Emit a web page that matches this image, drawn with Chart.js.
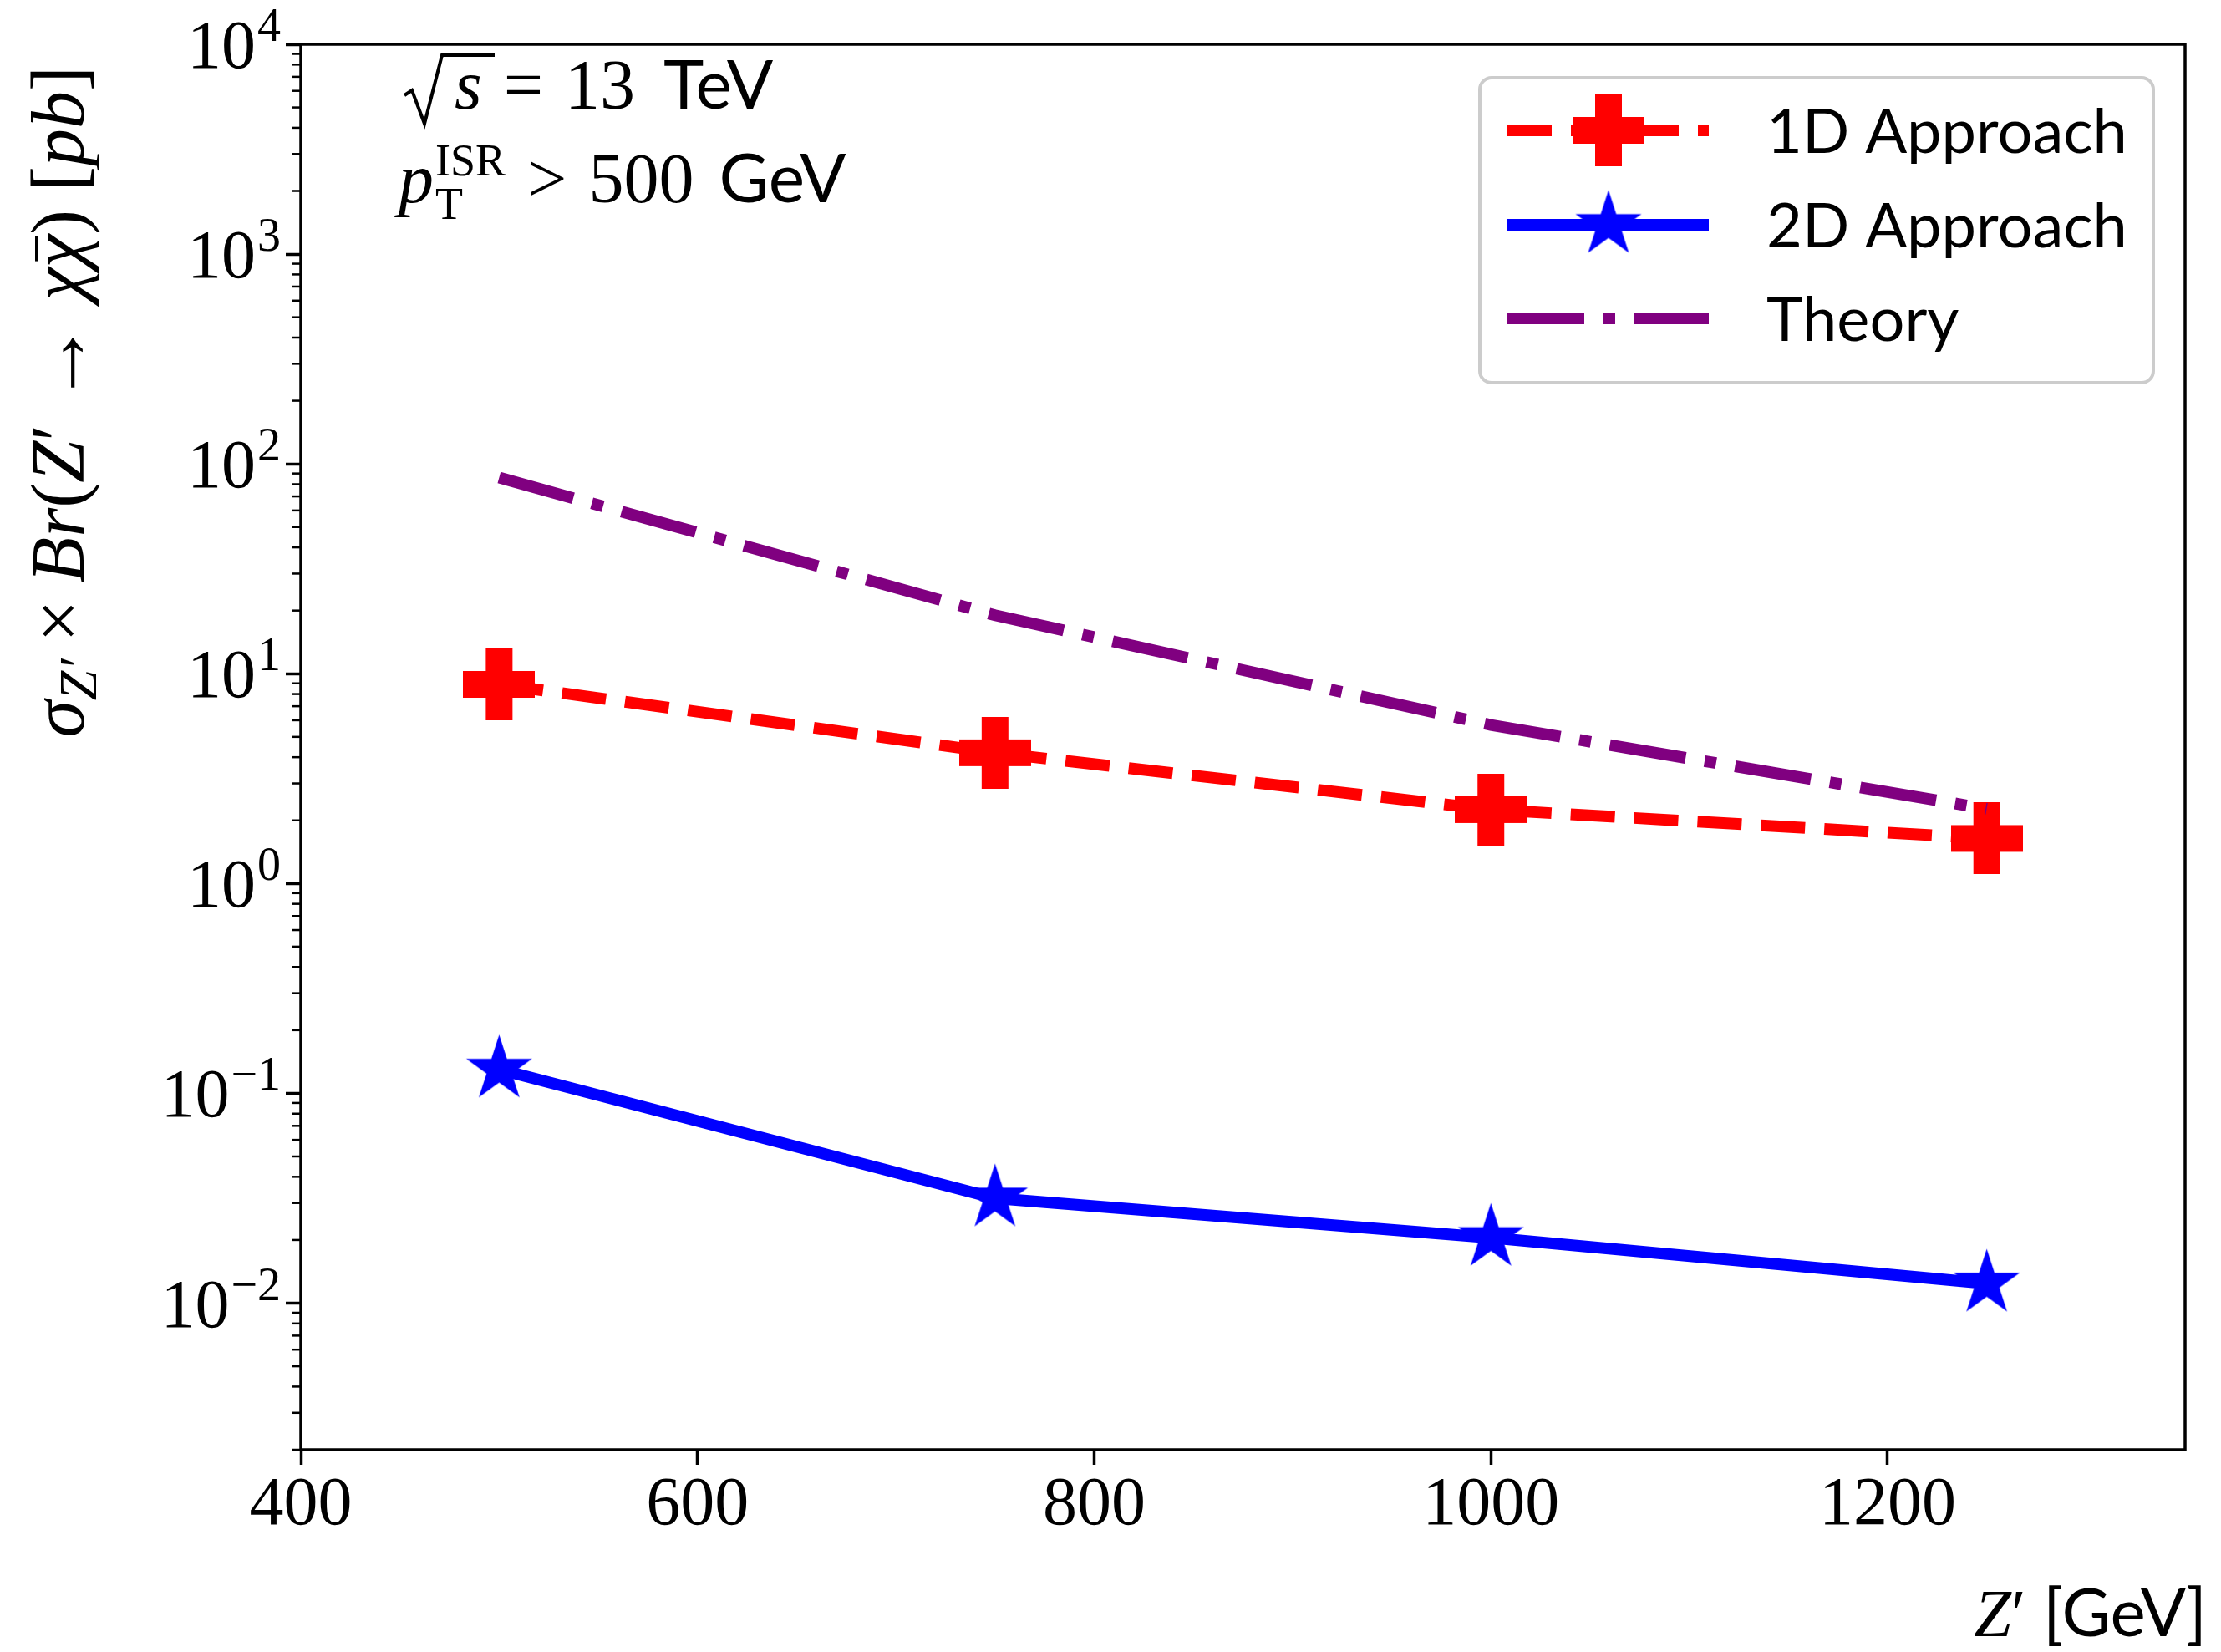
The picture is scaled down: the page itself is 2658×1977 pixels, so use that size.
<!DOCTYPE html>
<html>
<head>
<meta charset="utf-8">
<script src="https://cdn.jsdelivr.net/npm/chart.js@4.4.1/dist/chart.umd.min.js"></script>
<style>
  html, body { margin: 0; padding: 0; background: #fff; }
  #wrap { width: 2658px; height: 1977px; }
</style>
</head>
<body>
<div id="wrap"><canvas id="limitChart" width="2658" height="1977"></canvas></div>
<script>
// ---------------------------
// data
// ---------------------------
const masses = [500, 750, 1000, 1250];          // Z' mass [GeV]
const limit1D = [8.9, 4.2, 2.25, 1.64];         // pb
const limit2D = [0.130, 0.0316, 0.0205, 0.0124];
const theory = [86, 19, 5.7, 2.27];
const xTickValues = [400, 600, 800, 1000, 1200];
const yDecades = [-2, -1, 0, 1, 2, 3, 4];

const SERIF = '"Liberation Serif", "DejaVu Serif", serif';
const SANS = 'Lato, "DejaVu Sans", sans-serif';

// ---------------------------
// marker images (filled plus, filled star)
// ---------------------------
function makePlus(color, size, arm) {
    const c = document.createElement('canvas');
    c.width = size; c.height = size;
    const g = c.getContext('2d');
    g.fillStyle = color;
    const a = (size - arm) / 2;
    g.fillRect(a, 0, arm, size);
    g.fillRect(0, a, size, arm);
    return c;
}

function makeStar(color, R) {
    const s = Math.ceil(2 * R + 4);
    const c = document.createElement('canvas');
    c.width = s; c.height = s;
    const g = c.getContext('2d');
    const r = R * 0.381966;
    g.beginPath();
    for (let i = 0; i < 10; i++) {
        const rad = i % 2 === 0 ? R : r;
        const ang = -Math.PI / 2 + i * Math.PI / 5;
        const px = s / 2 + rad * Math.cos(ang), py = s / 2 + rad * Math.sin(ang);
        if (i === 0) g.moveTo(px, py); else g.lineTo(px, py);
    }
    g.closePath();
    g.fillStyle = color;
    g.fill();
    return c;
}

const plusMarker = makePlus('#ff0000', 86, 32);
const starMarker = makeStar('#0000ff', 41.5);

const toPoints = arr => masses.map((m, i) => ({ x: m, y: arr[i] }));
const isDecade = v => Math.abs(Math.log10(v) - Math.round(Math.log10(v))) < 1e-9;

// ---------------------------
// text helper: draws a row of differently styled pieces
// ---------------------------
function drawRuns(ctx, x, y, runs) {
    runs.forEach(r => {
        ctx.font = r.font;
        x += r.pre || 0;
        const w = ctx.measureText(r.t).width;
        ctx.fillText(r.t, x, y + (r.dy || 0));
        if (r.bar) ctx.fillRect(x + w * 0.2, y - r.bar, w * 0.75, 4);
        x += w + (r.sp || 0);
    });
    return x;
}

function runsWidth(ctx, runs) {
    let w = 0;
    runs.forEach(r => { ctx.font = r.font; w += ctx.measureText(r.t).width + (r.sp || 0) + (r.pre || 0); });
    return w;
}

// ---------------------------
// plugin: frame, minor ticks, y labels, legend, annotations
// ---------------------------
const decorations = {
    id: 'decorations',
    beforeDraw(chart) {
        const ctx = chart.ctx;
        ctx.save();
        ctx.fillStyle = '#ffffff';
        ctx.fillRect(0, 0, chart.width, chart.height);
        ctx.restore();
    },
    afterDatasetsDraw(chart) {
        const ctx = chart.ctx;
        const area = chart.chartArea;
        const ys = chart.scales.y;
        ctx.save();
        ctx.fillStyle = '#000';
        ctx.strokeStyle = '#000';

        // axes frame
        ctx.lineWidth = 3.5;
        ctx.strokeRect(area.left, area.top, area.right - area.left, area.bottom - area.top);

        // minor y ticks
        ctx.lineWidth = 2.5;
        ys.ticks.forEach(t => {
            if (isDecade(t.value)) return;
            const py = ys.getPixelForValue(t.value);
            ctx.beginPath();
            ctx.moveTo(area.left - 10, py);
            ctx.lineTo(area.left, py);
            ctx.stroke();
        });

        // y tick labels 10^k
        ctx.textBaseline = 'alphabetic';
        yDecades.forEach(k => {
            const py = ys.getPixelForValue(Math.pow(10, k));
            const sup = k < 0 ? '\u2212' + (-k) : String(k);
            ctx.font = '56px ' + SERIF;
            const wSup = ctx.measureText(sup).width;
            ctx.font = '82px ' + SERIF;
            const wBase = ctx.measureText('10').width;
            const xEnd = 336;
            ctx.fillText('10', xEnd - wSup - wBase - 2, py + 28);
            ctx.font = '56px ' + SERIF;
            ctx.fillText(sup, xEnd - wSup, py - 4);
        });

        // y axis label (rotated)
        const F = 90;
        const yRuns = [
            { t: '\u03c3', font: 'italic ' + F + 'px ' + SERIF },
            { t: 'Z\u2032', font: 'italic 64px ' + SERIF, dy: 15 },
            { t: '\u00d7', font: F + 'px ' + SERIF, pre: 20, sp: 20 },
            { t: 'Br', font: 'italic ' + F + 'px ' + SERIF },
            { t: '(', font: F + 'px ' + SERIF },
            { t: 'Z', font: 'italic ' + F + 'px ' + SERIF },
            { t: '\u2032', font: F + 'px ' + SERIF },
            { t: '\u2192', font: (F + 10) + 'px ' + SERIF, pre: 24, sp: 24, dy: 4 },
            { t: '\u03c7', font: 'italic ' + F + 'px ' + SERIF },
            { t: '\u03c7', font: 'italic ' + F + 'px ' + SERIF, bar: 58 },
            { t: ')', font: F + 'px ' + SERIF, sp: 22 },
            { t: '[', font: F + 'px ' + SERIF },
            { t: 'pb', font: 'italic ' + F + 'px ' + SERIF },
            { t: ']', font: F + 'px ' + SERIF }
        ];
        const yLen = runsWidth(ctx, yRuns);
        ctx.save();
        ctx.translate(100, 79 + yLen);
        ctx.rotate(-Math.PI / 2);
        drawRuns(ctx, 0, 0, yRuns);
        ctx.restore();

        // x axis label, right aligned
        const xRuns = [
            { t: 'Z', font: 'italic 80px ' + SERIF },
            { t: '\u2032', font: '80px ' + SERIF },
            { t: ' [GeV]', font: '80px ' + SANS }
        ];
        drawRuns(ctx, 2641 - runsWidth(ctx, xRuns), 1958, xRuns);

        // annotations top-left
        ctx.lineWidth = 4;
        ctx.lineJoin = 'miter';
        ctx.beginPath();
        ctx.moveTo(484, 114);
        ctx.lineTo(493, 108);
        ctx.lineTo(508, 148);
        ctx.lineTo(529, 66);
        ctx.lineTo(592, 66);
        ctx.stroke();
        drawRuns(ctx, 544, 130, [
            { t: 's', font: 'italic 84px ' + SERIF },
            { t: '=', font: '84px ' + SERIF, pre: 26, sp: 26 },
            { t: '13', font: '84px ' + SERIF },
            { t: 'TeV', font: '82px ' + SANS, pre: 34 }
        ]);
        ctx.font = 'italic 84px ' + SERIF;
        ctx.fillText('p', 477, 242);
        const pw = ctx.measureText('p').width;
        ctx.font = '54px ' + SERIF;
        ctx.fillText('T', 477 + pw + 2, 262);
        ctx.fillText('ISR', 477 + pw + 2, 210);
        const isrW = ctx.measureText('ISR').width;
        drawRuns(ctx, 477 + pw + 2 + isrW, 242, [
            { t: '>', font: '84px ' + SERIF, pre: 26, sp: 26 },
            { t: '500', font: '84px ' + SERIF },
            { t: 'GeV', font: '82px ' + SANS, pre: 30 }
        ]);

        // legend
        const lx = 1771, ly = 93, lw = 806, lh = 365;
        ctx.beginPath();
        ctx.roundRect(lx, ly, lw, lh, 14);
        ctx.fillStyle = 'rgba(255,255,255,0.85)';
        ctx.fill();
        ctx.lineWidth = 4;
        ctx.strokeStyle = '#cccccc';
        ctx.stroke();

        const rowY = [156, 269, 381];
        chart.data.datasets.forEach((ds, i) => {
            const y = rowY[i];
            ctx.save();
            ctx.strokeStyle = ds.borderColor;
            ctx.lineWidth = ds.borderWidth;
            ctx.lineCap = 'butt';
            ctx.setLineDash(ds.borderDash || []);
            ctx.beginPath();
            ctx.moveTo(1804, y);
            ctx.lineTo(2045, y);
            ctx.stroke();
            ctx.restore();
            const m = ds.pointRadius > 0 ? ds.pointStyle : null;
            if (m && typeof m === 'object') {
                ctx.drawImage(m, 1925 - m.width / 2, y - m.height / 2);
            }
            ctx.fillStyle = '#000';
            ctx.font = '74px ' + SANS;
            ctx.fillText(ds.label, 2114, y + 27);
        });

        ctx.restore();
    }
};

// ---------------------------
// chart
// ---------------------------
const ctx = document.getElementById('limitChart').getContext('2d');

const limitChart = new Chart(ctx, {
    type: 'line',
    data: {
        datasets: [
            {
                label: '1D Approach',
                data: toPoints(limit1D),
                borderColor: '#ff0000',
                backgroundColor: '#ff0000',
                borderWidth: 14,
                borderDash: [53, 23],
                borderCapStyle: 'butt',
                borderJoinStyle: 'round',
                pointStyle: plusMarker,
                pointRadius: 5,
                tension: 0,
                fill: false,
                order: 2
            },
            {
                label: '2D Approach',
                data: toPoints(limit2D),
                borderColor: '#0000ff',
                backgroundColor: '#0000ff',
                borderWidth: 14,
                borderCapStyle: 'butt',
                borderJoinStyle: 'round',
                pointStyle: starMarker,
                pointRadius: 5,
                tension: 0,
                fill: false,
                order: 1
            },
            {
                label: 'Theory',
                data: toPoints(theory),
                borderColor: '#800080',
                backgroundColor: '#800080',
                borderWidth: 14,
                borderDash: [92, 23, 14, 23],
                borderCapStyle: 'butt',
                pointRadius: 0,
                tension: 0,
                fill: false,
                order: 0
            }
        ]
    },
    options: {
        responsive: false,
        devicePixelRatio: 1,
        animation: false,
        layout: { padding: { left: 0, right: 43, top: 53, bottom: 0 } },
        plugins: {
            legend: { display: false },
            title: { display: false },
            tooltip: { enabled: false }
        },
        scales: {
            x: {
                type: 'linear',
                min: 400,
                max: 1350,
                afterBuildTicks: scale => { scale.ticks = xTickValues.map(v => ({ value: v })); },
                afterFit: scale => { scale.height = 242; },
                border: { display: false },
                grid: {
                    drawOnChartArea: false,
                    drawTicks: true,
                    tickLength: 18,
                    tickWidth: 3.5,
                    tickColor: '#000'
                },
                ticks: {
                    color: '#000',
                    padding: 4,
                    maxRotation: 0,
                    callback: v => String(v),
                    font: { family: SERIF, size: 82, lineHeight: 1.1 }
                }
            },
            y: {
                type: 'logarithmic',
                min: 0.002,
                max: 10000,
                afterBuildTicks: scale => {
                    const vals = [];
                    for (let k = -3; k <= 4; k++) {
                        for (let s = 1; s <= 9; s++) {
                            const v = s * Math.pow(10, k);
                            if (v >= scale.min * 0.999 && v <= scale.max * 1.001) vals.push({ value: v, major: s === 1 });
                        }
                    }
                    scale.ticks = vals;
                },
                afterFit: scale => { scale.width = 360; },
                border: { display: false },
                grid: {
                    drawOnChartArea: false,
                    drawTicks: true,
                    tickLength: 18,
                    tickWidth: 3.5,
                    tickColor: c => (c.tick && isDecade(c.tick.value)) ? '#000' : 'rgba(0,0,0,0)'
                },
                ticks: { display: false }
            }
        }
    },
    plugins: [decorations]
});
</script>
</body>
</html>
